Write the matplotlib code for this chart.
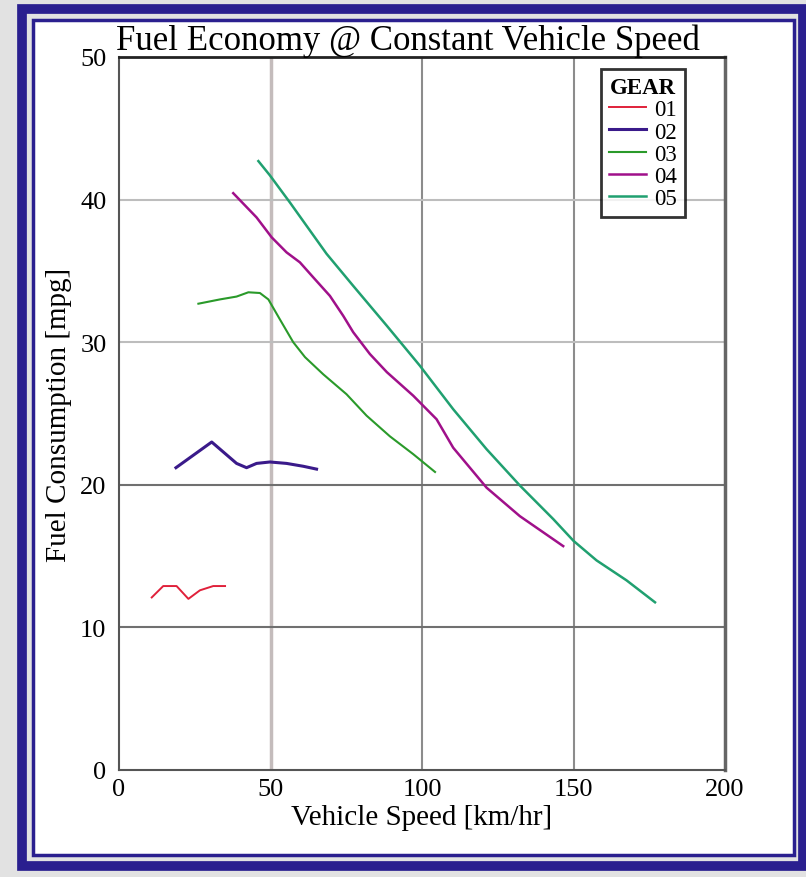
import matplotlib.pyplot as plt
from matplotlib.patches import Rectangle

plt.rcParams['font.family'] = 'serif'
plt.rcParams['font.serif'] = ['Liberation Serif', 'DejaVu Serif']

# Data (speed in km/hr, consumption in mpg)
gear01_speed = [10.8, 14.6, 19.0, 22.9, 26.7, 31.1, 35.0]
gear01_mpg = [12.1, 12.9, 12.9, 12.0, 12.6, 12.9, 12.9]

gear02_speed = [18.8, 30.6, 38.8, 42.1, 45.4, 49.8, 55.3, 60.8, 65.2]
gear02_mpg = [21.2, 23.0, 21.5, 21.2, 21.5, 21.6, 21.5, 21.3, 21.1]

gear03_speed = [26.2, 33.3, 38.8, 42.7, 46.5, 49.3, 53.1, 57.5, 61.4, 67.4, 75.1, 81.7, 89.4, 97.1, 104.3]
gear03_mpg = [32.7, 33.0, 33.2, 33.5, 33.45, 33.0, 31.6, 30.0, 28.95, 27.75, 26.35, 24.85, 23.4, 22.15, 20.9]

gear04_speed = [37.7, 45.4, 50.4, 55.3, 59.7, 64.1, 69.6, 74.0, 77.3, 82.8, 88.4, 97.1,
                104.8, 110.3, 121.3, 132.3, 146.6]
gear04_mpg = [40.45, 38.75, 37.35, 36.3, 35.6, 34.55, 33.25, 31.85, 30.7, 29.17, 27.9, 26.25,
              24.6, 22.6, 19.8, 17.8, 15.7]

gear05_speed = [46.0, 49.8, 56.4, 68.5, 77.3, 88.4, 99.3, 110.3, 121.3, 132.3, 143.3, 150.0,
                157.6, 167.5, 176.9]
gear05_mpg = [42.7, 41.7, 39.8, 36.2, 33.95, 31.15, 28.35, 25.3, 22.5, 19.95, 17.6, 16.07,
              14.7, 13.3, 11.76]

gear_labels = ['01', '02', '03', '04', '05']
gear_colors = ['#e0203a', '#3a1a8a', '#2a9a2a', '#a0108a', '#20a070']
gear_widths = [1.4, 2.2, 1.5, 1.8, 1.8]

fig = plt.figure(figsize=(8.06, 8.78), dpi=100)
fig.patch.set_facecolor('#e2e2e2')

# frame around the chart (pixel coords of the reference)
W, H = 806.0, 878.0
def frame(x0, y0, x1, y1, color, lw, face='none'):
    fig.patches.append(Rectangle((x0 / W, 1 - y1 / H), (x1 - x0) / W, (y1 - y0) / H,
                                 transform=fig.transFigure, facecolor=face,
                                 edgecolor=color, linewidth=lw, zorder=-5))

frame(33, 20, 794, 856, 'none', 0, face='white')
frame(22, 9.5, 803, 867, '#2a1f8f', 7)
frame(33, 20.5, 794, 855.5, '#2a1f8f', 2.5)

ax = fig.add_axes([119 / W, 1 - 771 / H, 606 / W, 713 / H])
ax.set_zorder(5)
ax.set_facecolor('white')

series = [(gear01_speed, gear01_mpg), (gear02_speed, gear02_mpg), (gear03_speed, gear03_mpg),
          (gear04_speed, gear04_mpg), (gear05_speed, gear05_mpg)]
handles = []
for (xs, ys), lab, col, lw in zip(series, gear_labels, gear_colors, gear_widths):
    ln, = ax.plot(xs, ys, color=col, linewidth=lw, label=lab, zorder=3)
    handles.append(ln)

# grid lines
for xv, c, w in [(50, '#c4bcbc', 2.5), (100, '#8c8c8c', 1.5), (150, '#8c8c8c', 1.5)]:
    ax.axvline(xv, color=c, linewidth=w, zorder=1)
for yv, c, w in [(10, '#707070', 1.5), (20, '#707070', 1.5), (30, '#bdbdbd', 1.5), (40, '#bdbdbd', 1.5)]:
    ax.axhline(yv, color=c, linewidth=w, zorder=1)

ax.set_xlim(0, 200)
ax.set_ylim(0, 50)
ax.set_xticks([0, 50, 100, 150, 200])
ax.set_yticks([0, 10, 20, 30, 40, 50])
ax.tick_params(length=0, labelsize=19)
ax.tick_params(axis='y', pad=9)
ax.tick_params(axis='x', pad=6)

for side in ['left', 'bottom']:
    ax.spines[side].set_color('#555555')
    ax.spines[side].set_linewidth(1.5)
ax.spines['top'].set_color('#222222')
ax.spines['top'].set_linewidth(2)
ax.spines['right'].set_color('#666666')
ax.spines['right'].set_linewidth(2.5)

ax.set_title('Fuel Economy @ Constant Vehicle Speed', fontsize=25, pad=2, x=0.476)
ax.set_xlabel('Vehicle Speed [km/hr]', fontsize=21, labelpad=3)
ax.set_ylabel('Fuel Consumption [mpg]', fontsize=21, labelpad=6)

leg = ax.legend(handles=handles, title='GEAR', loc='upper right',
                bbox_to_anchor=(0.934, 0.983), fontsize=16.5, title_fontsize=16.5,
                frameon=True, fancybox=False, edgecolor='black', handlelength=1.6,
                handletextpad=0.35, labelspacing=0.05, borderpad=0.35,
                borderaxespad=0.0)
leg.get_frame().set_linewidth(2)
leg.get_title().set_fontweight('bold')

fig.savefig('out.png', dpi=100, facecolor=fig.get_facecolor())
